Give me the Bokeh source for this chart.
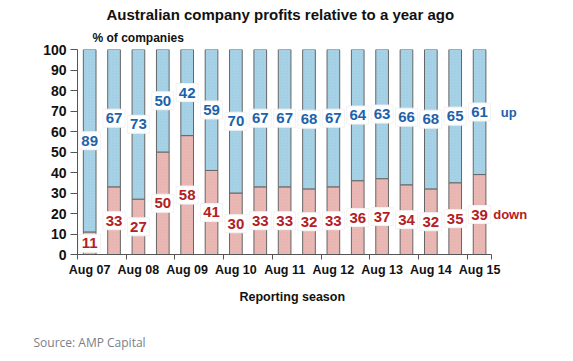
from bokeh.plotting import figure
from bokeh.models import ColumnDataSource, FixedTicker, Range1d, Title
from bokeh.core.properties import value
from bokeh.embed import file_html
from bokeh.resources import INLINE

seasons = ["Aug 07", "Feb 08", "Aug 08", "Feb 09", "Aug 09", "Feb 10", "Aug 10", "Feb 11",
           "Aug 11", "Feb 12", "Aug 12", "Feb 13", "Aug 13", "Feb 14", "Aug 14", "Feb 15", "Aug 15"]
down = [11, 33, 27, 50, 58, 41, 30, 33, 33, 32, 33, 36, 37, 34, 32, 35, 39]
up = [89, 67, 73, 50, 42, 59, 70, 67, 67, 68, 67, 64, 63, 66, 68, 65, 61]
y_ticks = [0, 10, 20, 30, 40, 50, 60, 70, 80, 90, 100]
series_names = ["down", "up"]

FONT = "Liberation Sans"
BLUE_FILL = "#a9d3e7"
RED_FILL = "#ebbab6"
BLUE_TXT = "#1c63ab"
RED_TXT = "#b3201f"

n = len(seasons)
xs = [i + 0.5 for i in range(n)]
src = ColumnDataSource(dict(
    x=xs, down=down, up=up,
    top=[d + u for d, u in zip(down, up)],
    down_mid=[d / 2 for d in down],
    up_mid=[d + u / 2 for d, u in zip(down, up)],
    down_txt=[str(d) for d in down],
    up_txt=[str(u) for u in up],
))

p = figure(output_backend="svg", toolbar_location=None, title=None,
           x_range=Range1d(0, n + 2), y_range=Range1d(0, 100),
           frame_width=463, frame_height=205,
           min_border_left=77, min_border_right=33, min_border_top=49, min_border_bottom=100)
p.outline_line_color = None
p.xgrid.visible = False
p.ygrid.visible = False
p.background_fill_color = "white"
p.border_fill_color = "white"

p.vbar(x="x", bottom=0, top="down", width=0.52, source=src,
       fill_color=RED_FILL, line_color="#666666", line_width=1,
       hatch_pattern="x", hatch_color="#d9a19c", hatch_scale=3, hatch_weight=0.4, hatch_alpha=0.6)
p.vbar(x="x", bottom="down", top="top", width=0.52, source=src,
       fill_color=BLUE_FILL, line_color="#666666", line_width=1,
       hatch_pattern="x", hatch_color="#8dbfd8", hatch_scale=3, hatch_weight=0.4, hatch_alpha=0.6)

for col, ycol, color in (("down_txt", "down_mid", RED_TXT), ("up_txt", "up_mid", BLUE_TXT)):
    p.rect(x="x", y=ycol, width=22, height=18, width_units="screen", height_units="screen",
           source=src, fill_color="white", line_color="#f2f2f2", line_width=1)
    p.text(x="x", y=ycol, text=col, source=src, text_align="center", text_baseline="middle",
           text_font=value(FONT), text_font_style="bold", text_font_size="15px", text_color=color)

# series names to the right of the last bar
p.text(x=[n + 0.06, n + 0.37], y=[down[-1] / 2, down[-1] + up[-1] / 2], text=series_names,
       text_align="left", text_baseline="middle", text_font=value(FONT),
       text_font_style="bold", text_font_size="13px", text_color=[RED_TXT, BLUE_TXT])

# y axis
yax = p.yaxis[0]
yax.ticker = FixedTicker(ticks=y_ticks, minor_ticks=[])
yax.axis_line_color = "#555555"
yax.major_tick_line_color = "#555555"
yax.major_tick_out = 7
yax.major_tick_in = 0
yax.minor_tick_line_color = None
yax.major_label_text_font = FONT
yax.major_label_text_font_style = "bold"
yax.major_label_text_font_size = "14px"
yax.major_label_text_color = "#111111"
yax.major_label_standoff = 4

# x axis
xax = p.xaxis[0]
label_pos = [i + 0.5 for i in range(0, n, 2)]
xax.ticker = FixedTicker(ticks=label_pos, minor_ticks=[float(i) for i in range(0, n, 2)] + [float(n)])
xax.major_label_overrides = {x: seasons[int(x - 0.5)] for x in label_pos}
xax.bounds = (0, n)
xax.axis_line_color = "#555555"
xax.major_tick_line_color = None
xax.major_tick_out = 5
xax.minor_tick_line_color = "#555555"
xax.minor_tick_out = 5
xax.minor_tick_in = 0
xax.major_label_text_font = FONT
xax.major_label_text_font_style = "bold"
xax.major_label_text_font_size = "12.5px"
xax.major_label_text_color = "#111111"
xax.major_label_standoff = 3

# titles above (first added is closest to the frame)
p.add_layout(Title(text="% of companies", align="left", offset=15, standoff=9,
                   text_font=FONT, text_font_style="bold", text_font_size="12px",
                   text_color="#111111"), "above")
p.add_layout(Title(text="Australian company profits relative to a year ago", align="left",
                   offset=29, standoff=3, text_font=FONT, text_font_style="bold",
                   text_font_size="15px", text_color="#111111"), "above")
# texts below (first added is closest to the axis)
p.add_layout(Title(text="Reporting season", align="left", offset=162, standoff=17,
                   text_font=FONT, text_font_style="bold", text_font_size="12.5px",
                   text_color="#111111"), "below")
p.add_layout(Title(text="Source: AMP Capital", align="left", offset=-44, standoff=38,
                   text_font="Open Sans", text_font_style="normal", text_font_size="12px",
                   text_color="#7a8088"), "below")

open("out.html", "w").write(file_html(p, INLINE))
